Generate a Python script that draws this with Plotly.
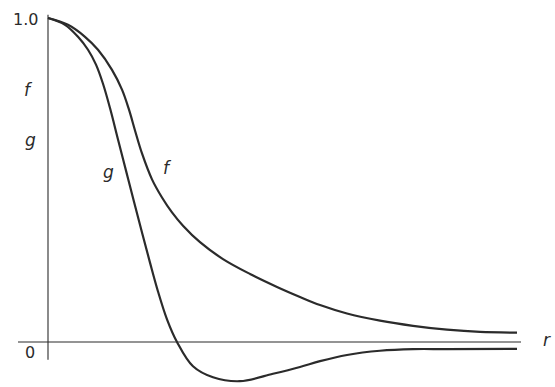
import plotly.graph_objects as go

# f(r) curve
r_f = [0.0, 0.20, 0.37, 0.50, 0.64, 0.74, 0.81, 0.87, 0.94, 1.04, 1.14, 1.24, 1.35,
       1.52, 1.75, 2.02, 2.29, 2.52, 2.72, 2.99, 3.32, 3.65, 3.99, 4.32, 4.69]
f_vals = [1.0, 0.979, 0.942, 0.902, 0.840, 0.779, 0.717, 0.653, 0.582, 0.502, 0.446,
          0.400, 0.359, 0.308, 0.256, 0.210, 0.170, 0.139, 0.114, 0.088, 0.066, 0.050,
          0.038, 0.031, 0.029]

# g(r) curve
r_g = [0.0, 0.17, 0.30, 0.40, 0.48, 0.55, 0.62, 0.70, 0.78, 0.86, 0.94, 1.02, 1.10,
       1.19, 1.29, 1.45, 1.65, 1.92, 2.25, 2.52, 2.72, 2.99, 3.32, 3.65, 3.99, 4.69]
g_vals = [1.0, 0.979, 0.942, 0.902, 0.856, 0.797, 0.722, 0.625, 0.529, 0.433, 0.338,
          0.245, 0.156, 0.070, 0.0, -0.075, -0.109, -0.121, -0.098, -0.077, -0.059,
          -0.040, -0.027, -0.022, -0.022, -0.021]

# axis extents
x_axis_r = [-0.30, 4.73]
y_axis_v = [-0.055, 1.01]

INK = "#2b2b2b"
FONT = "DejaVu Sans"

fig = go.Figure()
fig.add_trace(go.Scatter(x=r_f, y=f_vals, mode="lines",
                         line=dict(color=INK, width=2.2, shape="spline", smoothing=1.0),
                         hoverinfo="skip", showlegend=False))
fig.add_trace(go.Scatter(x=r_g, y=g_vals, mode="lines",
                         line=dict(color=INK, width=2.2, shape="spline", smoothing=1.0),
                         hoverinfo="skip", showlegend=False))

# axes drawn as lines
fig.add_shape(type="line", x0=x_axis_r[0], x1=x_axis_r[1], y0=0, y1=0,
              line=dict(color=INK, width=1.1))
fig.add_shape(type="line", x0=0, x1=0, y0=y_axis_v[0], y1=y_axis_v[1],
              line=dict(color=INK, width=1.1))

def label(x, y, text, italic=False, size=17):
    fig.add_annotation(x=x, y=y, text=text, showarrow=False,
                       font=dict(family=FONT, size=size, color=INK,
                                 style="italic" if italic else "normal"),
                       xanchor="center", yanchor="middle")

label(-0.23, 0.994, "1.0", size=16)
label(-0.18, -0.031, "0", size=16)
label(-0.20, 0.778, "f", italic=True)
label(-0.18, 0.623, "g", italic=True)
label(0.60, 0.525, "g", italic=True)
label(1.19, 0.537, "f", italic=True)
label(4.99, 0.006, "r", italic=True)

fig.update_layout(
    width=555, height=387, autosize=False,
    margin=dict(l=0, r=0, t=0, b=0),
    paper_bgcolor="white", plot_bgcolor="white",
    xaxis=dict(range=[-0.48, 5.07], visible=False, fixedrange=True),
    yaxis=dict(range=[-0.1389, 1.0556], visible=False, fixedrange=True),
)

fig.write_html("out.html", config={"displayModeBar": False},
               post_script="document.body.style.margin='0';document.body.style.overflow='hidden';")
